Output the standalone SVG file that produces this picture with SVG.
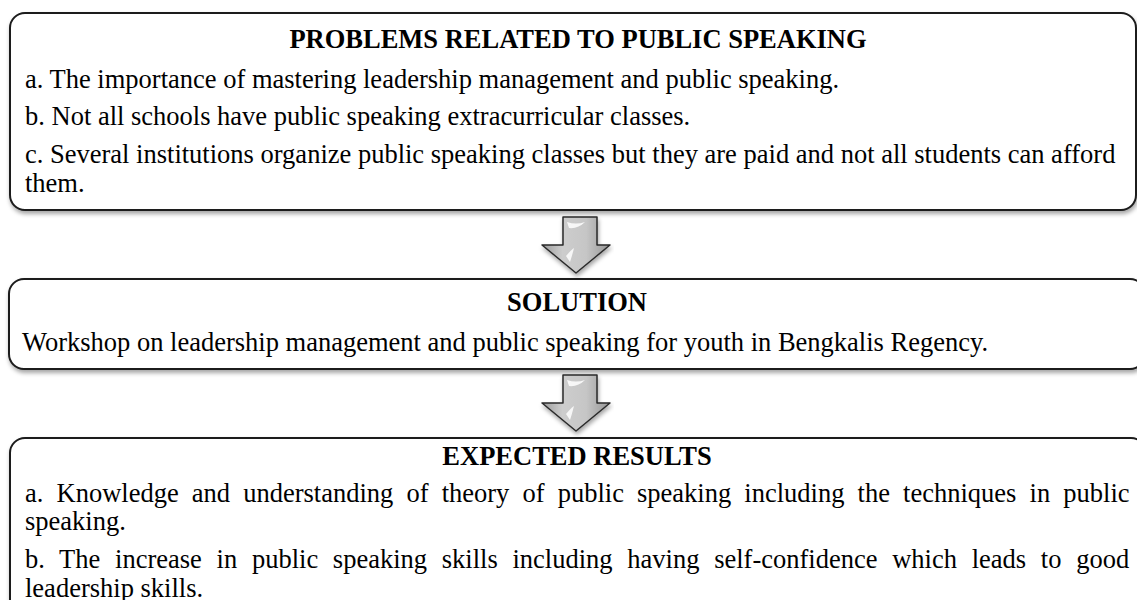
<svg xmlns="http://www.w3.org/2000/svg" width="1137" height="600" viewBox="0 0 1137 600">
  <defs>
    <filter id="shadow" x="-5%" y="-10%" width="110%" height="130%">
      <feDropShadow dx="1" dy="3" stdDeviation="2" flood-color="#000" flood-opacity="0.35"/>
    </filter>
    <linearGradient id="arrowFill" x1="0" y1="0" x2="1" y2="0">
      <stop offset="0" stop-color="#9a9a9a"/>
      <stop offset="0.3" stop-color="#cdcdcd"/>
      <stop offset="0.65" stop-color="#c6c6c6"/>
      <stop offset="1" stop-color="#959595"/>
    </linearGradient>
    <path id="arrowShape" d="M563,217 L597,217 L597,245 L610,245 L576,273 L542,245 L563,245 Z"/>
  </defs>
  <style>
    .box { fill: #ffffff; stroke: #1c1c1c; stroke-width: 2; filter: url(#shadow); }
    .title { font-family: "Liberation Serif", "Times New Roman", serif; font-weight: bold; font-size: 26.5px; fill: #000; text-anchor: middle; }
    .body { font-family: "Liberation Serif", "Times New Roman", serif; font-size: 26.5px; fill: #000; }
    .arrow { fill: url(#arrowFill); stroke: #2a2a2a; stroke-width: 1.5; stroke-linejoin: round; filter: url(#shadow); }
    .hl { fill: #ffffff; opacity: 0.85; }
  </style>

  <g id="problems">
    <rect class="box" x="10" y="13" width="1126" height="197" rx="15" ry="15"/>
    <text class="title" x="578" y="48">PROBLEMS RELATED TO PUBLIC SPEAKING</text>
    <text class="body" x="25" y="88">a. The importance of mastering leadership management and public speaking.</text>
    <text class="body" x="25" y="125">b. Not all schools have public speaking extracurricular classes.</text>
    <text class="body" x="25" y="163">c. Several institutions organize public speaking classes but they are paid and not all students can afford</text>
    <text class="body" x="25" y="192">them.</text>
  </g>

  <g id="solution">
    <rect class="box" x="9" y="279" width="1136" height="90" rx="15" ry="15"/>
    <text class="title" x="577" y="311">SOLUTION</text>
    <text class="body" x="22" y="351">Workshop on leadership management and public speaking for youth in Bengkalis Regency.</text>
  </g>

  <g id="results">
    <rect class="box" x="10" y="438" width="1136" height="200" rx="15" ry="15"/>
    <text class="title" x="577" y="465">EXPECTED RESULTS</text>
    <text class="body" x="25" y="502" word-spacing="6.5">a. Knowledge and understanding of theory of public speaking including the techniques in public</text>
    <text class="body" x="25" y="530">speaking.</text>
    <text class="body" x="25" y="568" word-spacing="8.1">b. The increase in public speaking skills including having self-confidence which leads to good</text>
    <text class="body" x="25" y="597">leadership skills.</text>
  </g>

  <g id="connectors">
    <g id="arrow1">
      <use href="#arrowShape" class="arrow"/>
      <path class="hl" d="M567,222 Q576,225 585,222 Q578,229 569,228 Z"/>
      <path class="hl" d="M566,256 Q571,250 574,248 Q572,256 570,262 Z"/>
    </g>
    <g id="arrow2" transform="translate(0,158)">
      <use href="#arrowShape" class="arrow"/>
      <path class="hl" d="M567,222 Q576,225 585,222 Q578,229 569,228 Z"/>
      <path class="hl" d="M566,256 Q571,250 574,248 Q572,256 570,262 Z"/>
    </g>
  </g>
</svg>
